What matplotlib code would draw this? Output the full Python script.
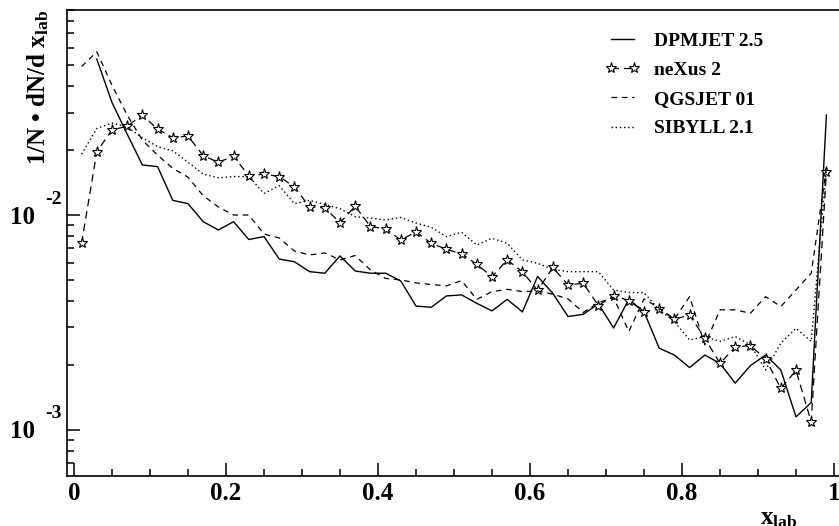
import numpy as np
import matplotlib
matplotlib.use("Agg")
import matplotlib.pyplot as plt
from matplotlib.ticker import LogLocator, NullFormatter, MultipleLocator
from matplotlib.transforms import offset_copy

plt.rcParams['font.family'] = ['Liberation Serif', 'DejaVu Serif']
plt.rcParams['font.weight'] = 'bold'
plt.rcParams['mathtext.fontset'] = 'custom'
plt.rcParams['mathtext.rm'] = 'Liberation Serif:bold'
plt.rcParams['mathtext.it'] = 'Liberation Serif:bold'
plt.rcParams['mathtext.bf'] = 'Liberation Serif:bold'

# bin centres of x_lab (bin width 0.02)
x_centres = np.round(np.arange(0.01, 1.0, 0.02), 2)

# DPMJET has no entry in the first bin
dpmjet = [0.0532, 0.0334, 0.0238, 0.0171, 0.0168, 0.0117, 0.0113, 0.00931, 0.00852,
          0.00931, 0.00769, 0.00794, 0.00624, 0.00606, 0.00545, 0.00536, 0.00645, 0.00549,
          0.00536, 0.00536, 0.00493, 0.00377, 0.00372, 0.00420, 0.00425, 0.00388, 0.00358,
          0.00405, 0.00354, 0.00518, 0.00432, 0.00337, 0.00345, 0.00386, 0.00298, 0.00405,
          0.00355, 0.00240, 0.00223, 0.00195, 0.00223, 0.00204, 0.00165, 0.00199, 0.00223,
          0.00190, 0.00115, 0.00134, 0.0292]
nexus = [0.00739, 0.0197, 0.0249, 0.0259, 0.0292, 0.0251, 0.0229, 0.0233, 0.0189, 0.0176,
         0.0188, 0.0152, 0.0155, 0.0151, 0.0135, 0.0109, 0.0108, 0.00921, 0.0110, 0.00884,
         0.00863, 0.00765, 0.00834, 0.00739, 0.00693, 0.00659, 0.00590, 0.00516, 0.00618,
         0.00545, 0.00446, 0.00570, 0.00473, 0.00481, 0.00379, 0.00422, 0.00400, 0.00355,
         0.00365, 0.00327, 0.00343, 0.00267, 0.00204, 0.00243, 0.00247, 0.00214, 0.00156,
         0.00189, 0.00109, 0.0159]
qgsjet = [0.0491, 0.0575, 0.0402, 0.0292, 0.0223, 0.0190, 0.0165, 0.0150, 0.0123, 0.0109,
          0.0100, 0.0100, 0.00816, 0.00782, 0.00680, 0.00652, 0.00666, 0.00618, 0.00648,
          0.00555, 0.00507, 0.00499, 0.00483, 0.00475, 0.00468, 0.00495, 0.00405, 0.00440,
          0.00451, 0.00440, 0.00443, 0.00428, 0.00407, 0.00352, 0.00391, 0.00413, 0.00287,
          0.00407, 0.00369, 0.00328, 0.00417, 0.00249, 0.00362, 0.00362, 0.00349, 0.00417,
          0.00375, 0.00448, 0.00536, 0.0165]
sibyll = [0.0192, 0.0253, 0.0268, 0.0257, 0.0229, 0.0208, 0.0199, 0.0176, 0.0155, 0.0149,
          0.0151, 0.0151, 0.0126, 0.0137, 0.0113, 0.0117, 0.0112, 0.0107, 0.00982, 0.00968,
          0.00948, 0.00974, 0.00918, 0.00877, 0.00793, 0.00831, 0.00725, 0.00779, 0.00739,
          0.00618, 0.00596, 0.00559, 0.00545, 0.00545, 0.00545, 0.00448, 0.00436, 0.00435,
          0.00362, 0.00319, 0.00262, 0.00272, 0.00258, 0.00272, 0.00249, 0.00190, 0.00253,
          0.00297, 0.00258, 0.0165]

labels = ['DPMJET 2.5', 'neXus 2', 'QGSJET 01', 'SIBYLL 2.1']
xtick_values = [0, 0.2, 0.4, 0.6, 0.8, 1]
xtick_labels = ['0', '0.2', '0.4', '0.6', '0.8', '1']
ytick_values = [1e-3, 1e-2]
ytick_exps = ['-3', '-2']

W, H = 839, 526
fig = plt.figure(figsize=(W / 100, H / 100), dpi=100)
ax = fig.add_axes([67 / W, 50 / H, 774 / W, 466 / H])

ax.plot(x_centres[1:], dpmjet, color='black', lw=1.0, label=labels[0])
ax.plot(x_centres, nexus, color='black', lw=0.9, linestyle=(0, (6, 4)),
        marker='*', markersize=8, markerfacecolor='white', markeredgecolor='black',
        markeredgewidth=0.8, label=labels[1])
ax.plot(x_centres, qgsjet, color='black', lw=0.9, linestyle=(0, (4.5, 3.8)), label=labels[2])
ax.plot(x_centres, sibyll, color='black', lw=1.0, linestyle=(0, (1, 2)), label=labels[3])

ax.set_yscale('log')
ax.set_xlim(-0.0092, 1.0092)
ax.set_ylim(6.1e-4, 0.09)

for side in ['top', 'bottom', 'left', 'right']:
    ax.spines[side].set_linewidth(1.2)

ax.xaxis.set_major_locator(MultipleLocator(0.2))
ax.xaxis.set_minor_locator(MultipleLocator(0.05))
ax.set_xticks(xtick_values)
ax.set_xticklabels(xtick_labels, fontsize=18, fontweight='bold')
ax.yaxis.set_major_locator(LogLocator(base=10))
ax.yaxis.set_minor_locator(LogLocator(base=10, subs=np.arange(2, 10)))
ax.yaxis.set_minor_formatter(NullFormatter())
ax.set_yticks(ytick_values)
ax.set_yticklabels(['', ''])
ax.tick_params(which='both', direction='in', top=False, right=False, width=1.1)
ax.tick_params(which='major', length=9.4, pad=4)
ax.tick_params(which='minor', length=4.7)

# y tick labels written as "10" with a raised exponent
ytrans = ax.get_yaxis_transform()
for val, ex in zip(ytick_values, ytick_exps):
    ax.text(-0.0413, val, '10', transform=offset_copy(ytrans, fig, y=-2, units='dots'),
            ha='right', va='center', fontsize=18, fontweight='bold')
    ax.text(-0.0284, val, ex, transform=offset_copy(ytrans, fig, y=16, units='dots'),
            ha='left', va='center', fontsize=14, fontweight='bold')

ax.set_ylabel(r'1/N • dN/d x$_{\rm lab}$', fontsize=18, fontweight='bold', loc='top')
ax.yaxis.set_label_coords(-0.021, 1.0)
ax.set_xlabel(r'x$_{\rm lab}$', fontsize=18, fontweight='bold', loc='right')
ax.xaxis.set_label_coords(0.943, -0.066)

ax.legend(loc='upper left', bbox_to_anchor=(605 / W, 1 - 32 / H), bbox_transform=fig.transFigure,
          frameon=False, numpoints=2, handlelength=1.8, handletextpad=0.7,
          labelspacing=0.6, borderpad=0, borderaxespad=0, prop={'weight': 'bold', 'size': 14})

fig.savefig('out.png', dpi=100)
